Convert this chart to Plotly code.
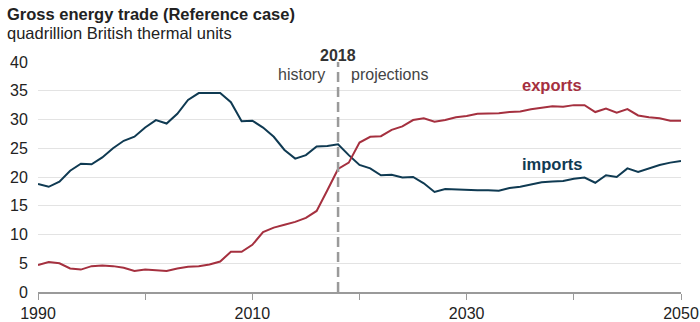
import plotly.graph_objects as go

years = list(range(1990, 2051))
imports = [18.8, 18.3, 19.2, 21.1, 22.3, 22.2, 23.4, 25.0, 26.3, 27.0,
           28.6, 29.9, 29.3, 31.0, 33.4, 34.6, 34.6, 34.6, 33.0, 29.7,
           29.8, 28.6, 27.0, 24.7, 23.2, 23.8, 25.3, 25.4, 25.7, 23.8,
           22.1, 21.5, 20.3, 20.4, 19.9, 20.0, 18.9, 17.4, 17.9, 17.8,
           17.7, 17.7, 17.7, 17.6, 18.1, 18.3, 18.7, 19.1, 19.2, 19.3,
           19.7, 19.9, 19.0, 20.3, 20.0, 21.5, 20.9, 21.5, 22.1, 22.5, 22.8]
exports = [4.7, 5.2, 5.0, 4.1, 3.9, 4.5, 4.6, 4.5, 4.2, 3.65,
           3.9, 3.75, 3.65, 4.1, 4.4, 4.5, 4.8, 5.3, 7.0, 7.0,
           8.2, 10.4, 11.2, 11.7, 12.2, 12.9, 14.1, 17.7, 21.4, 22.5,
           26.0, 27.0, 27.1, 28.2, 28.8, 29.9, 30.2, 29.6, 29.9, 30.4,
           30.6, 31.0, 31.0, 31.1, 31.3, 31.4, 31.8, 32.0, 32.3, 32.2,
           32.5, 32.5, 31.3, 31.9, 31.2, 31.8, 30.7, 30.4, 30.2, 29.8, 29.8]
x_tickvals = [1990, 2000, 2010, 2020, 2030, 2040, 2050]
x_ticktext = ["1990", "", "2010", "", "2030", "", "2050"]
y_tickvals = [0, 5, 10, 15, 20, 25, 30, 35, 40]
split_year = 2018

NAVY = "#0f3a52"
RED = "#a5303f"
GRAY = "#9a9a9a"
FONT = "Liberation Sans, Arial, sans-serif"

fig = go.Figure()
fig.add_trace(go.Scatter(x=years, y=imports, mode="lines",
                         line=dict(color=NAVY, width=2), name="imports"))
fig.add_trace(go.Scatter(x=years, y=exports, mode="lines",
                         line=dict(color=RED, width=2), name="exports"))

fig.add_shape(type="line", x0=split_year, x1=split_year, y0=0, y1=40, xref="x", yref="y",
              line=dict(color=GRAY, width=2.5, dash="10px,5px"), layer="above")

fig.update_layout(
    width=700, height=322,
    margin=dict(l=38, r=19, t=62, b=30),
    paper_bgcolor="white", plot_bgcolor="white",
    showlegend=False,
    font=dict(family=FONT, color="#222222"),
    xaxis=dict(range=[1990, 2050], tickvals=x_tickvals, ticktext=x_ticktext,
               showgrid=False, showline=True, linecolor=GRAY, linewidth=2,
               ticks="outside", ticklen=6, tickcolor=GRAY, tickwidth=1,
               tickfont=dict(size=16, color="#222222"), zeroline=False,
               automargin=False),
    yaxis=dict(range=[0, 40], tickvals=y_tickvals, showgrid=True,
               gridcolor="#e3e3e3", gridwidth=1, zeroline=False,
               ticks="outside", ticklen=6, tickcolor="rgba(0,0,0,0)",
               tickfont=dict(size=16, color="#222222"),
               automargin=False),
)

fig.add_annotation(x=split_year, y=1.03, xref="x", yref="paper", yanchor="middle",
                   text="<b>2018</b>", showarrow=False,
                   font=dict(size=16, color="#333333", family=FONT))
fig.add_annotation(x=split_year, y=37.9, xref="x", yref="y", xanchor="right", xshift=-11,
                   text="history", showarrow=False,
                   font=dict(size=16, color="#444444", family=FONT))
fig.add_annotation(x=split_year, y=37.9, xref="x", yref="y", xanchor="left", xshift=11,
                   text="projections", showarrow=False,
                   font=dict(size=16, color="#444444", family=FONT))
fig.add_annotation(x=2038, y=36.0, xref="x", yref="y",
                   text="<b>exports</b>", showarrow=False,
                   font=dict(size=16.5, color=RED, family=FONT))
fig.add_annotation(x=2038, y=22.3, xref="x", yref="y",
                   text="<b>imports</b>", showarrow=False,
                   font=dict(size=16.5, color=NAVY, family=FONT))
fig.add_annotation(x=-0.0513, y=1.2087, xref="paper", yref="paper",
                   xanchor="left", yanchor="middle",
                   text="<b>Gross energy trade (Reference case)</b>", showarrow=False,
                   font=dict(size=16.5, color="#222222", family=FONT))
fig.add_annotation(x=-0.0513, y=1.126, xref="paper", yref="paper",
                   xanchor="left", yanchor="middle",
                   text="quadrillion British thermal units", showarrow=False,
                   font=dict(size=16.5, color="#222222", family=FONT))

fig.write_html("out.html")
